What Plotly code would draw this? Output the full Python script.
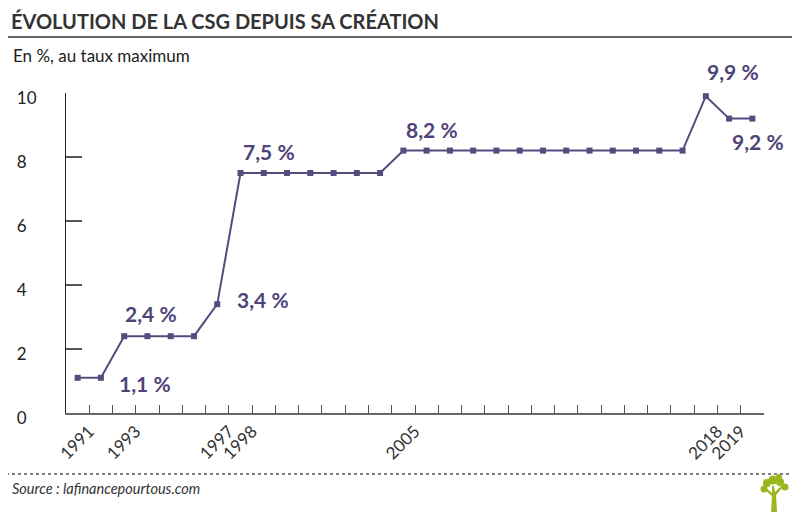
import plotly.graph_objects as go

years = list(range(1991, 2021))
rates = [1.1, 1.1, 2.4, 2.4, 2.4, 2.4, 3.4,
         7.5, 7.5, 7.5, 7.5, 7.5, 7.5, 7.5,
         8.2, 8.2, 8.2, 8.2, 8.2, 8.2, 8.2, 8.2, 8.2, 8.2, 8.2, 8.2, 8.2,
         9.9, 9.2, 9.2]
labelled_years = [1991, 1993, 1997, 1998, 2005, 2018, 2019]
y_ticks = [0, 2, 4, 6, 8, 10]

# value labels: (year, value, text, xshift, yshift)
value_labels = [
    (1992, 1.1, "1,1 %", 44, -6),
    (1993, 2.4, "2,4 %", 27, 23),
    (1997, 3.4, "3,4 %", 46, 5),
    (1998, 7.5, "7,5 %", 28, 22),
    (2005, 8.2, "8,2 %", 29, 21),
    (2018, 9.9, "9,9 %", 27, 25),
    (2019, 9.2, "9,2 %", 29, -23),
]

LINE = "#564b7f"
LABEL = "#4f4478"
FONT = "Lato"

OFF = 8  # page body margin
W, H = 800 - OFF, 514 - OFF
L, T = 66 - OFF, 93 - OFF
R = W - (764 - OFF)
B = H - (413 - OFF)
PW, PH = W - L - R, H - T - B

def px(x):
    return (x - OFF - L) / PW

def py(y):
    return (H - B - (y - OFF)) / PH

fig = go.Figure()
fig.add_trace(go.Scatter(
    x=years, y=rates, mode="lines+markers",
    line=dict(color=LINE, width=2),
    marker=dict(symbol="square", size=6, color=LINE),
    hoverinfo="skip", showlegend=False, cliponaxis=False,
))

tickvals = [y + 0.5 for y in years]
ticktext = [str(y) if y in labelled_years else "" for y in years]

for (yr, v, t, xs, ys) in value_labels:
    fig.add_annotation(x=yr, y=v, text=t, showarrow=False, xshift=xs, yshift=ys,
                       font=dict(family=FONT, size=21, color=LABEL, weight="bold"))

fig.update_xaxes(range=[1990.5, 2020.5], tickvals=tickvals, ticktext=ticktext,
                 tickangle=-45, ticks="inside", ticklen=8, tickcolor="#555",
                 tickwidth=1.2, showline=True, linecolor="#666", linewidth=1.5,
                 showgrid=False, zeroline=False, automargin=False,
                 tickfont=dict(family=FONT, size=17, color="#333"))
fig.update_yaxes(range=[0, 10], tickvals=y_ticks,
                 ticktext=[str(v) if v >= 10 else str(v) + "\u2007" for v in y_ticks],
                 ticks="inside", ticklen=16, tickcolor="#555", tickwidth=1.5,
                 showline=True, linecolor="#222", linewidth=1.2,
                 showgrid=False, zeroline=False, ticklabelstandoff=25,
                 ticklabelshift=5, automargin=False,
                 tickfont=dict(family=FONT, size=17, color="#222"))

annotations_paper = [
    dict(x=px(9), y=py(21), text="ÉVOLUTION DE LA CSG DEPUIS SA CRÉATION",
         font=dict(family=FONT, size=20, color="#333", weight="bold"), xanchor="left", yanchor="middle"),
    dict(x=px(11), y=py(55), text="En %, au taux maximum",
         font=dict(family=FONT, size=17, color="#222"), xanchor="left", yanchor="middle"),
    dict(x=px(10), y=py(488), text="<i>Source : lafinancepourtous.com</i>",
         font=dict(family=FONT, size=14.5, color="#333"), xanchor="left", yanchor="middle"),
]
for a in annotations_paper:
    fig.add_annotation(xref="paper", yref="paper", showarrow=False, **a)

shapes = [
    dict(type="line", x0=px(0), x1=px(800), y0=py(37), y1=py(37),
         line=dict(color="#666", width=2)),
    dict(type="line", x0=px(0), x1=px(800), y0=py(474), y1=py(474),
         line=dict(color="#555", width=1.5, dash="dot")),
]
# small tree logo
green = "#9ab71d"
trunk = f"M {px(771)},{py(512)} L {px(777)},{py(512)} L {px(776)},{py(495)} L {px(783)},{py(487)} L {px(781)},{py(486)} L {px(775)},{py(492)} L {px(774)},{py(486)} L {px(772)},{py(486)} L {px(772)},{py(493)} L {px(766)},{py(488)} L {px(765)},{py(490)} L {px(772)},{py(496)} Z"
shapes.append(dict(type="path", path=trunk, fillcolor=green, line=dict(width=0)))
for (cx, cy, r) in [(764, 489, 3.5), (767, 483, 4), (773, 480, 4.5), (780, 482, 4), (785, 487, 3.5), (779, 477, 3)]:
    shapes.append(dict(type="circle", x0=px(cx - r), x1=px(cx + r), y0=py(cy - r), y1=py(cy + r),
                       fillcolor=green, line=dict(width=0)))
for s in shapes:
    s.setdefault("xref", "paper")
    s.setdefault("yref", "paper")
    fig.add_shape(**s)

fig.update_layout(width=W, height=H, margin=dict(l=L, r=R, t=T, b=B),
                  paper_bgcolor="white", plot_bgcolor="white")
fig.write_html("out.html")
